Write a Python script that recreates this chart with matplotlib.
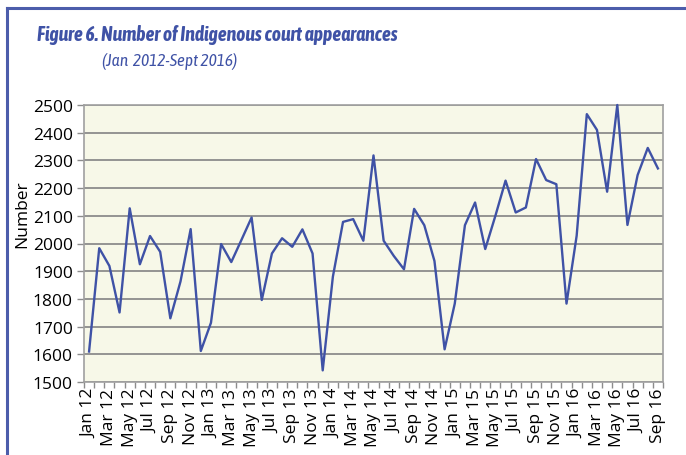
import matplotlib
matplotlib.use("Agg")
import matplotlib.pyplot as plt
from matplotlib.lines import Line2D
import numpy as np

months = ["Jan", "Feb", "Mar", "Apr", "May", "Jun", "Jul", "Aug", "Sep", "Oct", "Nov", "Dec"]
categories = []
for yr in range(12, 17):
    for m in months:
        categories.append(f"{m} {yr}")
categories = categories[:57]  # Jan 12 - Sep 16

values = [1610, 1983, 1919, 1751, 2127, 1925, 2027, 1970, 1730, 1863, 2052, 1612,
          1714, 1998, 1933, 2013, 2094, 1796, 1964, 2019, 1988, 2051, 1964, 1542,
          1880, 2078, 2088, 2010, 2318, 2010, 1955, 1907, 2125, 2066, 1937, 1618,
          1783, 2066, 2148, 1980, 2100, 2227, 2112, 2130, 2305, 2229, 2214, 1783,
          2028, 2467, 2410, 2187, 2500, 2067, 2247, 2345, 2271]

title = "Figure 6. Number of Indigenous court appearances"
subtitle = "(Jan  2012-Sept 2016)"
ylabel = "Number"

BLUE = "#3F52A6"
GRID = "#8C8C8C"
BG = "#F7F8E8"

fig = plt.figure(figsize=(6.86, 4.56), dpi=100)
ax = fig.add_axes([84/686, 1 - 383/456, (663-84)/686, (383-106)/456])
ax.set_facecolor(BG)

x = np.arange(len(values))
ax.plot(x, values, color=BLUE, lw=1.7, zorder=3, clip_on=False)

ax.set_xlim(-0.5, len(values) - 0.5)
ax.set_ylim(1500, 2500)
ax.set_yticks(np.arange(1500, 2501, 100))
ax.yaxis.grid(True, color=GRID, lw=1.3)
ax.set_axisbelow(True)

ax.set_xticks(x[::2])
ax.set_xticklabels(categories[::2], rotation=90, family="Open Sans", fontsize=12.5)
ax.set_xticks(np.arange(-0.5, len(values), 1), minor=True)
ax.tick_params(axis="x", which="major", length=0, pad=4)
ax.tick_params(axis="x", which="minor", length=4, color=GRID, width=1)
ax.tick_params(axis="y", length=5, color=GRID, width=1, labelsize=12.5, pad=3)
for lab in ax.get_yticklabels():
    lab.set_family("Open Sans")

for s in ax.spines.values():
    s.set_color("#A0A0A0")
    s.set_linewidth(1.2)

fig.text(22/686, 1 - 214/456, ylabel, rotation=90, ha="center", va="center",
         family="Open Sans", fontsize=12.5)

t1 = fig.text(37/686, 1 - 35/456, title, ha="left", va="center", color=BLUE,
              family=["Asap Condensed", "DejaVu Sans"], fontweight="bold",
              fontstyle="italic", fontsize=13)
t2 = fig.text(102/686, 1 - 61/456, subtitle, ha="left", va="center", color=BLUE,
              family=["Asap Condensed", "DejaVu Sans"], fontstyle="italic", fontsize=11)

# fit title widths to the reference
renderer = fig.canvas.get_renderer()
for t, target in ((t1, 360), (t2, 135)):
    w = t.get_window_extent(renderer).width
    if w > 0:
        t.set_fontsize(t.get_fontsize() * target / w)

fig.add_artist(Line2D([6.5/686, 6.5/686], [0, 1 - 8.5/456], transform=fig.transFigure,
                      color="#4C5DAB", lw=2.2))
fig.add_artist(Line2D([6.5/686, 1], [1 - 8.5/456, 1 - 8.5/456], transform=fig.transFigure,
                      color="#4C5DAB", lw=2.2))

fig.savefig("out.png", dpi=100)
